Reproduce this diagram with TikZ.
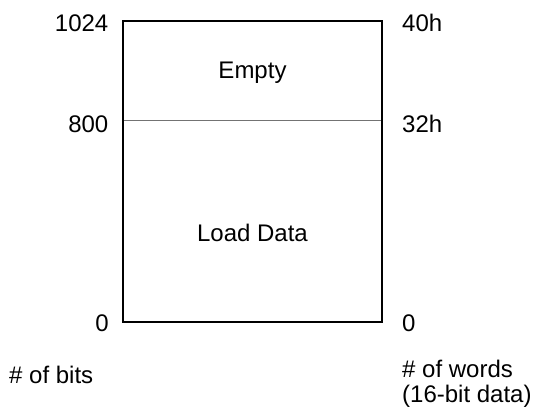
\documentclass[tikz,border=0pt]{standalone}
\usepackage{fontspec}
\setmainfont{Liberation Sans}
\begin{document}
\begin{tikzpicture}[x=1pt,y=-1pt,
  lbl/.style={inner sep=0pt,font=\fontsize{24}{25}\selectfont},
  frame/.style={line width=2.6pt,line join=miter},
  divider/.style={line width=1pt,draw=black!55}]
\useasboundingbox (0,0) rectangle (539,412);
\coordinate (tl) at (123,21);
\coordinate (br) at (382,322);
\coordinate (dl) at (123,121);
\coordinate (dr) at (382,121);
\draw[divider] (dl) -- (dr);
\draw[frame] (tl) rectangle (br);
\node[lbl,anchor=base] (empty) at (252.5,79) {Empty};
\node[lbl,anchor=base] (load) at (252.5,241) {Load Data};
\node[lbl,anchor=base east] (l1024) at (108.5,32) {1024};
\node[lbl,anchor=base east] (l800) at (108.5,132) {800};
\node[lbl,anchor=base east] (l0) at (109,331) {0};
\node[lbl,anchor=base west] (r40) at (402,32) {40h};
\node[lbl,anchor=base west] (r32) at (402,132) {32h};
\node[lbl,anchor=base west] (r0) at (402,331) {0};
\node[lbl,anchor=base west] (bits) at (9,383) {\# of bits};
\node[lbl,anchor=base west,align=left] (words) at (402,402) {\# of words\\(16-bit data)};
\end{tikzpicture}
\end{document}
